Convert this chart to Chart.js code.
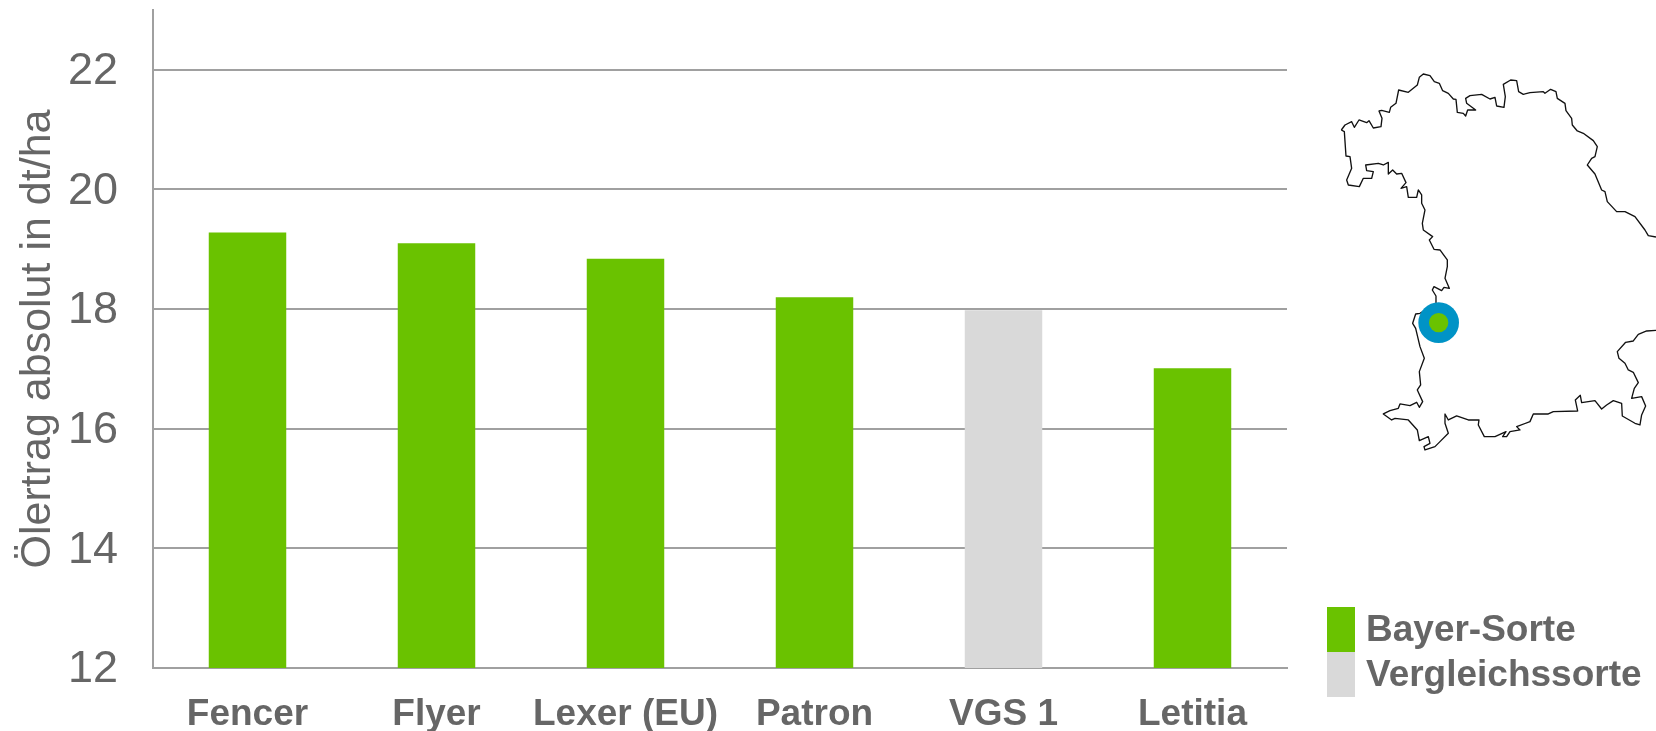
<!DOCTYPE html>
<html><head><meta charset="utf-8">
<style>
html,body{margin:0;padding:0;background:#fff;width:1656px;height:731px;overflow:hidden}
#wrap{position:relative;width:1656px;height:731px}
#c{position:absolute;left:0;top:0}
#map{position:absolute;left:0;top:0}
.sw{position:absolute;left:1327px;width:28px;height:45px}
.lb{position:absolute;left:1366px;font:bold 37px "Liberation Sans",Arial,sans-serif;color:#666;white-space:nowrap;line-height:45px}
</style>
<script src="https://cdn.jsdelivr.net/npm/chart.js@4"></script>
</head><body>
<div id="wrap">
<canvas id="c" width="1656" height="731"></canvas>
<svg id="map" width="1656" height="731" viewBox="0 0 1656 731"><g id="mapg" transform="translate(1300,50) scale(0.3333)"></g></svg>
<div id="legend"></div>
</div>
<script>
const categories=["Fencer","Flyer","Lexer (EU)","Patron","VGS 1","Letitia"];
const bayerValues=[19.28,19.1,18.84,18.2,null,17.01];
const compareValues=[null,null,null,null,17.98,null];
const yTicks=[12,14,16,18,20,22];
const seriesNames=["Bayer-Sorte","Vergleichssorte"];
const axisTitle="Ölertrag absolut in dt/ha";
const GREEN="#6AC200",GREY="#D9D9D9",TEXT="#666666",LINE="#A0A0A0";

const mapNorth=[124,240,135,225,155,215,163,232,177,210,200,218,207,212,220,234,243,230,246,205,237,183,245,181,268,187,272,172,288,160,296,120,325,127,352,105,358,82,370,72,390,77,403,95,418,100,428,122,445,130,460,147,468,148,472,187,490,190,497,198,503,180,527,180,500,160,497,145,510,137,545,133,570,147,585,142,590,168,612,172,616,140,610,103,632,90,650,92,656,125,670,133,690,128,730,125,735,130,752,118,768,125,772,145,795,160,798,182,815,205,817,225,832,243,850,250,880,272,892,290,885,320,875,325,862,345,885,372,905,420,915,425,922,455,950,485,975,485,1005,500,1035,540,1045,557,1068,561];
const mapSouth=[1068,841,1040,843,1015,853,1000,873,977,877,952,905,957,925,975,940,985,960,1000,967,1015,998,1003,1015,995,1045,1025,1040,1037,1068,1025,1095,1020,1125,1005,1120,967,1098,965,1060,940,1052,920,1065,905,1077,885,1052,845,1058,841,1036,826,1050,833,1083,760,1085,745,1092,700,1092,690,1115,650,1130,660,1140,630,1145,620,1160,608,1160,618,1145,585,1160,553,1160,535,1125,537,1110,505,1110,470,1098,445,1110,435,1092,435,1120,445,1150,420,1175,405,1190,375,1200,372,1190,390,1180,385,1160,358,1172,352,1140,325,1110,285,1105,275,1110,250,1092,270,1082,295,1075,300,1062,330,1067,350,1057,358,1072,368,1055,352,1020,362,1005,358,965,373,925,360,890,347,835,338,820,347,792,360,790,408,760,408,738,397,720,402,710,425,722,432,712,448,715,435,685,442,650,442,630,420,600,402,598,388,570,398,560,370,540,367,520,375,480,365,460,365,435,355,420,350,442,325,442,320,410,303,415,318,398,305,370,290,372,278,360,265,372,265,337,250,345,235,340,197,345,200,362,220,365,215,385,190,385,178,410,145,405,140,390,155,355,150,320,138,318,133,245,124,240];

const svgNS="http://www.w3.org/2000/svg",g=document.getElementById("mapg");
[mapNorth,mapSouth].forEach(p=>{const e=document.createElementNS(svgNS,"polyline");
 e.setAttribute("points",p.join(" "));e.setAttribute("fill","none");e.setAttribute("stroke","#111");
 e.setAttribute("stroke-width","4");e.setAttribute("stroke-linejoin","round");g.appendChild(e);});
[[61,"#0093C6"],[29,GREEN]].forEach(([r,col])=>{const e=document.createElementNS(svgNS,"circle");
 e.setAttribute("cx",416);e.setAttribute("cy",818);e.setAttribute("r",r);e.setAttribute("fill",col);g.appendChild(e);});

const lg=document.getElementById("legend");
[[607,GREEN],[652,GREY]].forEach(([t,col],i)=>{
 lg.insertAdjacentHTML("beforeend",`<div class="sw" style="top:${t}px;background:${col}"></div><div class="lb" style="top:${t-1}px">${seriesNames[i]}</div>`);});

new Chart(document.getElementById("c"),{
 type:"bar",
 data:{labels:categories,datasets:[
  {label:seriesNames[0],data:bayerValues,backgroundColor:GREEN,barPercentage:0.41,categoryPercentage:1},
  {label:seriesNames[1],data:compareValues,backgroundColor:GREY,barPercentage:0.41,categoryPercentage:1}
 ]},
 options:{
  responsive:false,animation:false,
  layout:{padding:{left:0,right:369,top:10,bottom:0}},
  plugins:{legend:{display:false},tooltip:{enabled:false}},
  scales:{
   x:{stacked:true,
    afterFit(s){s.height=63;s.paddingLeft=0;s.paddingRight=0;},
    grid:{display:false,drawTicks:false},
    border:{display:true,color:LINE,width:2},
    ticks:{color:TEXT,font:{family:'"Liberation Sans",Arial,sans-serif',size:37,weight:"bold"},padding:25,maxRotation:0,autoSkip:false}},
   y:{stacked:true,min:12,max:23,
    afterFit(s){s.width=153;s.paddingTop=0;s.paddingBottom=0;},
    afterBuildTicks(s){s.ticks=yTicks.map(v=>({value:v}));},
    grid:{color:LINE,lineWidth:2,drawTicks:false},
    border:{display:true,color:LINE,width:2},
    ticks:{color:TEXT,font:{family:'"Liberation Sans",Arial,sans-serif',size:45},padding:35,labelOffset:2,includeBounds:false},
    title:{display:true,text:axisTitle,color:TEXT,font:{family:'"Liberation Sans",Arial,sans-serif',size:43,weight:"normal"},padding:{top:12,bottom:0}}}
  }
 }
});
</script>
</body></html>
